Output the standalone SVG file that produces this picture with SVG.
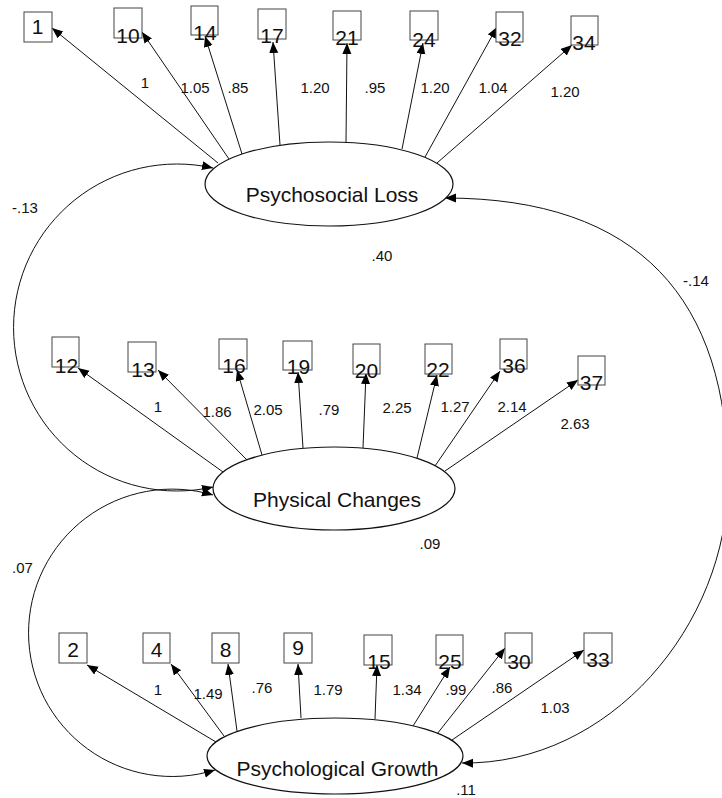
<svg xmlns="http://www.w3.org/2000/svg" width="722" height="798" viewBox="0 0 722 798">
<defs>
<style>
.box{fill:#fff;stroke:#444;stroke-width:1}
.bt{font-family:"Liberation Sans",Arial,sans-serif;font-size:21px;fill:#111;text-anchor:middle}
.lat{fill:#fff;stroke:#111;stroke-width:1.2}
.lt{font-family:"Liberation Sans",Arial,sans-serif;font-size:21px;fill:#111;text-anchor:middle}
.lb{font-family:"Liberation Sans",Arial,sans-serif;font-size:15px;fill:#111;text-anchor:middle}
.ln{stroke:#111;stroke-width:1;fill:none;marker-end:url(#ah)}
.cv{stroke:#111;stroke-width:1;fill:none;marker-start:url(#ah);marker-end:url(#ah)}
</style>
<marker id="ah" markerWidth="12" markerHeight="10" refX="11" refY="4.5" orient="auto-start-reverse" markerUnits="userSpaceOnUse"><path d="M0,0 L11,4.5 L0,9 z" fill="#000"/></marker>
</defs>
<rect width="722" height="798" fill="#fff"/>

<g id="connectors">
<line class="ln" x1="218" y1="163" x2="52" y2="28"/>
<line class="ln" x1="229" y1="159" x2="142" y2="32"/>
<line class="ln" x1="242" y1="154" x2="205" y2="36"/>
<line class="ln" x1="280" y1="145" x2="273" y2="42"/>
<line class="ln" x1="346" y1="142" x2="347" y2="43"/>
<line class="ln" x1="402" y1="149" x2="423" y2="43"/>
<line class="ln" x1="425" y1="157" x2="497" y2="27"/>
<line class="ln" x1="437" y1="163" x2="572" y2="45"/>
<line class="ln" x1="223" y1="472" x2="78" y2="368"/>
<line class="ln" x1="247" y1="460" x2="158" y2="370"/>
<line class="ln" x1="262" y1="455" x2="237" y2="370"/>
<line class="ln" x1="303" y1="448" x2="298" y2="372"/>
<line class="ln" x1="363" y1="448" x2="366" y2="373"/>
<line class="ln" x1="417" y1="458" x2="437" y2="375"/>
<line class="ln" x1="435" y1="466" x2="500" y2="371"/>
<line class="ln" x1="445" y1="471" x2="578" y2="380"/>
<line class="ln" x1="216" y1="742" x2="87" y2="665"/>
<line class="ln" x1="224" y1="736" x2="171" y2="664"/>
<line class="ln" x1="237" y1="731" x2="228" y2="664"/>
<line class="ln" x1="301" y1="718" x2="298" y2="664"/>
<line class="ln" x1="375" y1="719" x2="377" y2="665"/>
<line class="ln" x1="413" y1="726" x2="450" y2="667"/>
<line class="ln" x1="437" y1="734" x2="505" y2="648"/>
<line class="ln" x1="452" y1="740" x2="584" y2="650"/>
<path class="cv" d="M213,168 A163.5,163.5 0 1 0 213,487"/>
<path class="cv" d="M213,495 A143.7,143.7 0 1 0 215,770"/>
<path class="cv" d="M445,198 C640,198 728,300 728,480 C728,625 610,765 462,763"/>
</g>

<g id="psychosocial-loss">
<ellipse class="lat" cx="329" cy="184" rx="124" ry="42"/>
<text class="lt" x="332" y="202">Psychosocial Loss</text>
</g>
<g id="physical-changes">
<ellipse class="lat" cx="334" cy="488.5" rx="121" ry="41.5"/>
<text class="lt" x="337" y="507">Physical Changes</text>
</g>
<g id="psychological-growth">
<ellipse class="lat" cx="335" cy="756" rx="128" ry="38"/>
<text class="lt" x="337.5" y="776">Psychological Growth</text>
</g>

<g id="v1"><rect class="box" x="24" y="12" width="28" height="30"/><text class="bt" x="37.5" y="33.5">1</text></g>
<g id="v10"><rect class="box" x="114" y="8" width="28" height="30"/><text class="bt" x="128" y="43">10</text></g>
<g id="v14"><rect class="box" x="191" y="6" width="27" height="29"/><text class="bt" x="205" y="40">14</text></g>
<g id="v17"><rect class="box" x="258" y="9" width="28" height="30"/><text class="bt" x="272" y="43">17</text></g>
<g id="v21"><rect class="box" x="333" y="11" width="28" height="29"/><text class="bt" x="347" y="45">21</text></g>
<g id="v24"><rect class="box" x="410" y="11" width="28" height="29"/><text class="bt" x="424" y="47">24</text></g>
<g id="v32"><rect class="box" x="496" y="12" width="27" height="30"/><text class="bt" x="510" y="46">32</text></g>
<g id="v34"><rect class="box" x="571" y="16" width="27" height="29"/><text class="bt" x="584" y="50">34</text></g>

<g id="v12"><rect class="box" x="52" y="337" width="27" height="30"/><text class="bt" x="66.5" y="373">12</text></g>
<g id="v13"><rect class="box" x="128" y="342" width="28" height="30"/><text class="bt" x="143" y="377">13</text></g>
<g id="v16"><rect class="box" x="219" y="339" width="28" height="30"/><text class="bt" x="234" y="373">16</text></g>
<g id="v19"><rect class="box" x="283" y="341" width="29" height="29"/><text class="bt" x="298.5" y="374">19</text></g>
<g id="v20"><rect class="box" x="353" y="344" width="27" height="30"/><text class="bt" x="366.5" y="378">20</text></g>
<g id="v22"><rect class="box" x="425" y="344" width="27" height="30"/><text class="bt" x="438" y="377">22</text></g>
<g id="v36"><rect class="box" x="500" y="339" width="27" height="30"/><text class="bt" x="514" y="373">36</text></g>
<g id="v37"><rect class="box" x="578" y="356" width="27" height="29"/><text class="bt" x="591.5" y="390">37</text></g>

<g id="v2"><rect class="box" x="59" y="633" width="28" height="30"/><text class="bt" x="73" y="657">2</text></g>
<g id="v4"><rect class="box" x="143" y="633" width="27" height="30"/><text class="bt" x="156.5" y="657">4</text></g>
<g id="v8"><rect class="box" x="212" y="633" width="27" height="30"/><text class="bt" x="225.5" y="657">8</text></g>
<g id="v9"><rect class="box" x="284" y="633" width="28" height="30"/><text class="bt" x="298" y="655">9</text></g>
<g id="v15"><rect class="box" x="364" y="635" width="28" height="30"/><text class="bt" x="379" y="669">15</text></g>
<g id="v25"><rect class="box" x="436" y="635" width="27" height="30"/><text class="bt" x="450" y="669">25</text></g>
<g id="v30"><rect class="box" x="505" y="633" width="27" height="30"/><text class="bt" x="519" y="669">30</text></g>
<g id="v33"><rect class="box" x="584" y="633" width="28" height="30"/><text class="bt" x="598" y="667">33</text></g>

<g id="labels">
<text class="lb" x="145" y="88">1</text>
<text class="lb" x="195" y="93">1.05</text>
<text class="lb" x="238" y="93">.85</text>
<text class="lb" x="315" y="93">1.20</text>
<text class="lb" x="375" y="93">.95</text>
<text class="lb" x="435" y="93">1.20</text>
<text class="lb" x="493" y="93">1.04</text>
<text class="lb" x="565" y="97">1.20</text>

<text class="lb" x="158" y="412">1</text>
<text class="lb" x="217" y="417">1.86</text>
<text class="lb" x="268" y="415">2.05</text>
<text class="lb" x="329" y="415">.79</text>
<text class="lb" x="397" y="413">2.25</text>
<text class="lb" x="455" y="412">1.27</text>
<text class="lb" x="512" y="412">2.14</text>
<text class="lb" x="575" y="429">2.63</text>

<text class="lb" x="158" y="695">1</text>
<text class="lb" x="208" y="699">1.49</text>
<text class="lb" x="262" y="693">.76</text>
<text class="lb" x="328" y="695">1.79</text>
<text class="lb" x="407" y="695">1.34</text>
<text class="lb" x="456" y="695">.99</text>
<text class="lb" x="502" y="693">.86</text>
<text class="lb" x="555" y="713">1.03</text>

<text class="lb" x="25" y="213">-.13</text>
<text class="lb" x="382" y="261">.40</text>
<text class="lb" x="696" y="286">-.14</text>
<text class="lb" x="430" y="549">.09</text>
<text class="lb" x="22.5" y="573">.07</text>
<text class="lb" x="466" y="795">.11</text>
</g>
</svg>
